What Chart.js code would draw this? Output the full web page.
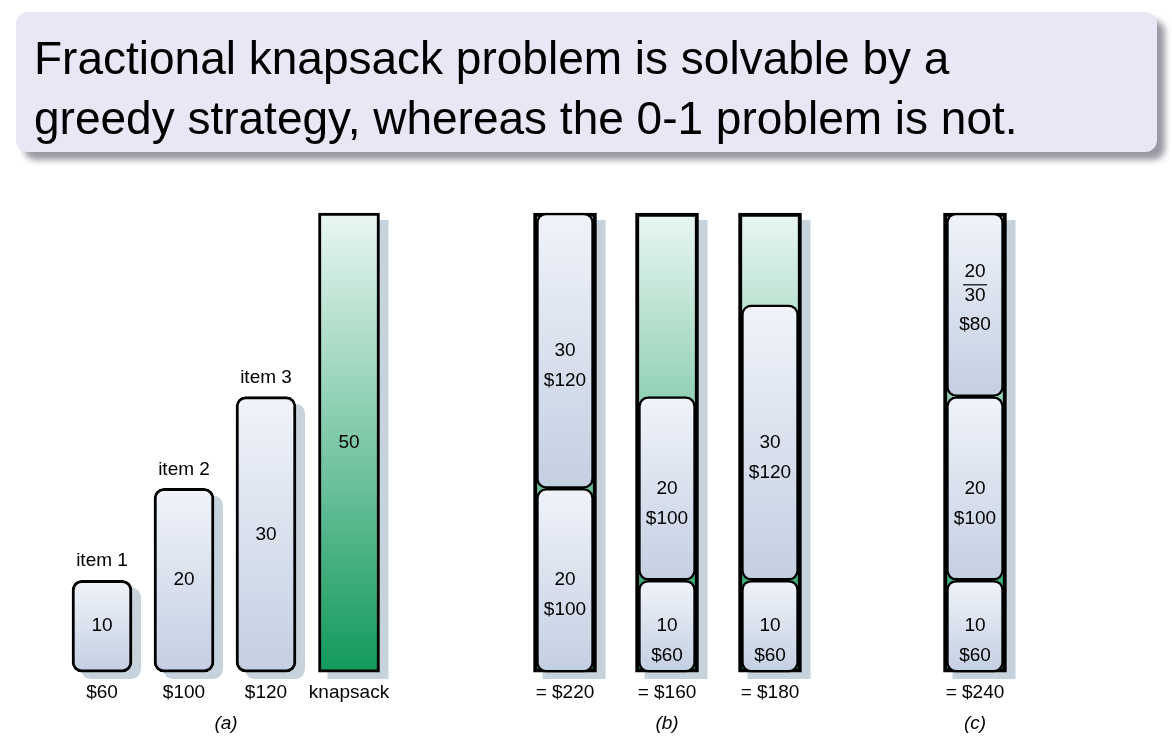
<!DOCTYPE html>
<html>
<head>
<meta charset="utf-8">
<script src="https://cdn.jsdelivr.net/npm/chart.js@4.4.1/dist/chart.umd.min.js"></script>
<style>
    body { margin: 0; background: #fff; font-family: "Liberation Sans", Arial, sans-serif; }
    #wrap { position: relative; width: 1172px; height: 740px; }
    #title {
        position: absolute; left: 16px; top: 12px; width: 1141px; height: 140px;
        background: #e7e7f5; border-radius: 12px;
        box-shadow: 8px 8px 6px #9a9aa4;
        font-size: 46px; line-height: 60px; padding: 16px 0 0 18px; box-sizing: border-box;
        color: #000;
    }
    canvas { position: absolute; left: 0; top: 0; }
</style>
</head>
<body>
<div id="wrap">
<canvas id="chart" width="1172" height="740"></canvas>
<div id="title">Fractional knapsack problem is solvable by a<br>greedy strategy, whereas the 0-1 problem is not.</div>
</div>
<script>
// Spalter (x-läge) för varje stapel
const itemCols = [102, 184, 266];
const knapCol = 349;
const packCols = [565, 667, 770, 975];

// Föremål i (a)
const itemWeights = [10, 20, 30];
const itemNames = ["item 1", "item 2", "item 3"];
const itemPrices = ["$60", "$100", "$120"];
const knapCapacity = 50;

// Packningar i (b) och (c)
const packFrom = [0, 20, 0, 10, 0, 10, 0, 10, 30];
const packTo = [20, 50, 10, 30, 10, 40, 10, 30, 50];
const packColIndex = [0, 0, 1, 1, 2, 2, 3, 3, 3];
const packText = [
    ["20", "$100"], ["30", "$120"],
    ["10", "$60"], ["20", "$100"],
    ["10", "$60"], ["30", "$120"],
    ["10", "$60"], ["20", "$100"], ["20/30", "$80"]
];
const packTotals = ["= $220", "= $160", "= $180", "= $240"];

const captions = ["(a)", "(b)", "(c)"];
const captionX = [226, 667, 975];

const FONT = '"Liberation Sans", Arial, sans-serif';

function yPix(chart, v) {
    return chart.scales.y.getPixelForValue(v);
}

function blueFill(context) {
    const chart = context.chart;
    const raw = context.raw;
    if (!chart.chartArea || !raw) return "#dde4f0";
    const g = chart.ctx.createLinearGradient(0, yPix(chart, raw.y[1]), 0, yPix(chart, raw.y[0]));
    g.addColorStop(0, "#f0f3fa");
    g.addColorStop(1, "#c3cfe2");
    return g;
}

function greenFill(context) {
    const chart = context.chart;
    if (!chart.chartArea) return "#7fc7a5";
    const g = chart.ctx.createLinearGradient(0, yPix(chart, knapCapacity), 0, yPix(chart, 0));
    g.addColorStop(0, "#e9f6f2");
    g.addColorStop(1, "#129a5c");
    return g;
}

const datasets = [];

datasets.push({
    data: itemCols.map((x, i) => ({ x: x, y: [0, itemWeights[i]] })),
    inner: itemWeights.map(w => [String(w)]),
    above: itemNames,
    below: itemPrices,
    backgroundColor: blueFill,
    borderColor: "#000",
    borderWidth: 3,
    borderRadius: 10,
    borderSkipped: false,
    barThickness: 60,
    shadow: true,
    order: 1
});

datasets.push({
    data: [{ x: knapCol, y: [0, knapCapacity] }],
    inner: [[String(knapCapacity)]],
    below: ["knapsack"],
    backgroundColor: greenFill,
    borderColor: "#000",
    borderWidth: 3,
    borderSkipped: false,
    barThickness: 61,
    shadow: true,
    order: 2
});

datasets.push({
    data: packCols.map(x => ({ x: x, y: [0, knapCapacity] })),
    below: packTotals,
    backgroundColor: greenFill,
    borderColor: "#000",
    borderWidth: 4,
    borderSkipped: false,
    barThickness: 63,
    shadow: true,
    order: 3
});

datasets.push({
    data: packFrom.map((f, i) => ({ x: packCols[packColIndex[i]], y: [f, packTo[i]] })),
    inner: packText,
    backgroundColor: blueFill,
    borderColor: "#000",
    borderWidth: 2.5,
    borderRadius: 10,
    borderSkipped: false,
    barThickness: 57,
    order: 0
});

// Skugga: grå kopia av varje stapel, förskjuten åt höger/nedåt
const shadowPlugin = {
    id: "shadow",
    beforeDatasetDraw(chart, args) {
        const ds = chart.data.datasets[args.index];
        if (!ds.shadow) return;
        const ctx = chart.ctx;
        ctx.save();
        ctx.fillStyle = "#c6d3dc";
        args.meta.data.forEach(bar => {
            const top = Math.min(bar.y, bar.base);
            const h = Math.abs(bar.base - bar.y);
            const r = ds.borderRadius ? ds.borderRadius : 0;
            ctx.beginPath();
            ctx.roundRect(bar.x - bar.width / 2 + 9, top + 7, bar.width, h, r);
            ctx.fill();
        });
        ctx.restore();
    }
};

const labelPlugin = {
    id: "labels",
    afterDatasetsDraw(chart) {
        const ctx = chart.ctx;
        ctx.save();
        ctx.fillStyle = "#000";
        ctx.strokeStyle = "#000";
        ctx.textAlign = "center";
        ctx.textBaseline = "middle";
        ctx.font = "19px " + FONT;

        chart.data.datasets.forEach((ds, di) => {
            const meta = chart.getDatasetMeta(di);
            meta.data.forEach((bar, i) => {
                const top = Math.min(bar.y, bar.base);
                const bottom = Math.max(bar.y, bar.base);
                const mid = (top + bottom) / 2;
                if (ds.inner) {
                    const lines = ds.inner[i];
                    if (lines[0].includes("/")) {
                        const parts = lines[0].split("/");
                        ctx.fillText(parts[0], bar.x, mid - 33);
                        ctx.beginPath();
                        ctx.lineWidth = 1.2;
                        ctx.moveTo(bar.x - 12, mid - 20);
                        ctx.lineTo(bar.x + 12, mid - 20);
                        ctx.stroke();
                        ctx.fillText(parts[1], bar.x, mid - 9);
                        ctx.fillText(lines[1], bar.x, mid + 20);
                    } else {
                        lines.forEach((t, k) => ctx.fillText(t, bar.x, mid + k * 30));
                    }
                }
                if (ds.above) ctx.fillText(ds.above[i], bar.x, top - 19);
                if (ds.below) ctx.fillText(ds.below[i], bar.x, bottom + 21);
            });
        });

        ctx.font = "italic 19px " + FONT;
        const capY = yPix(chart, 0) + 52;
        captions.forEach((c, i) => ctx.fillText(c, captionX[i], capY));
        ctx.restore();
    }
};

new Chart(document.getElementById("chart"), {
    type: "bar",
    data: { datasets: datasets },
    options: {
        responsive: false,
        animation: false,
        devicePixelRatio: 1,
        grouped: false,
        layout: { padding: 0 },
        plugins: {
            legend: { display: false },
            tooltip: { enabled: false }
        },
        scales: {
            x: { type: "linear", min: 0, max: 1172, display: false, offset: false },
            y: { min: -7.4, max: 73.2, display: false }
        }
    },
    plugins: [shadowPlugin, labelPlugin]
});
</script>
</body>
</html>
